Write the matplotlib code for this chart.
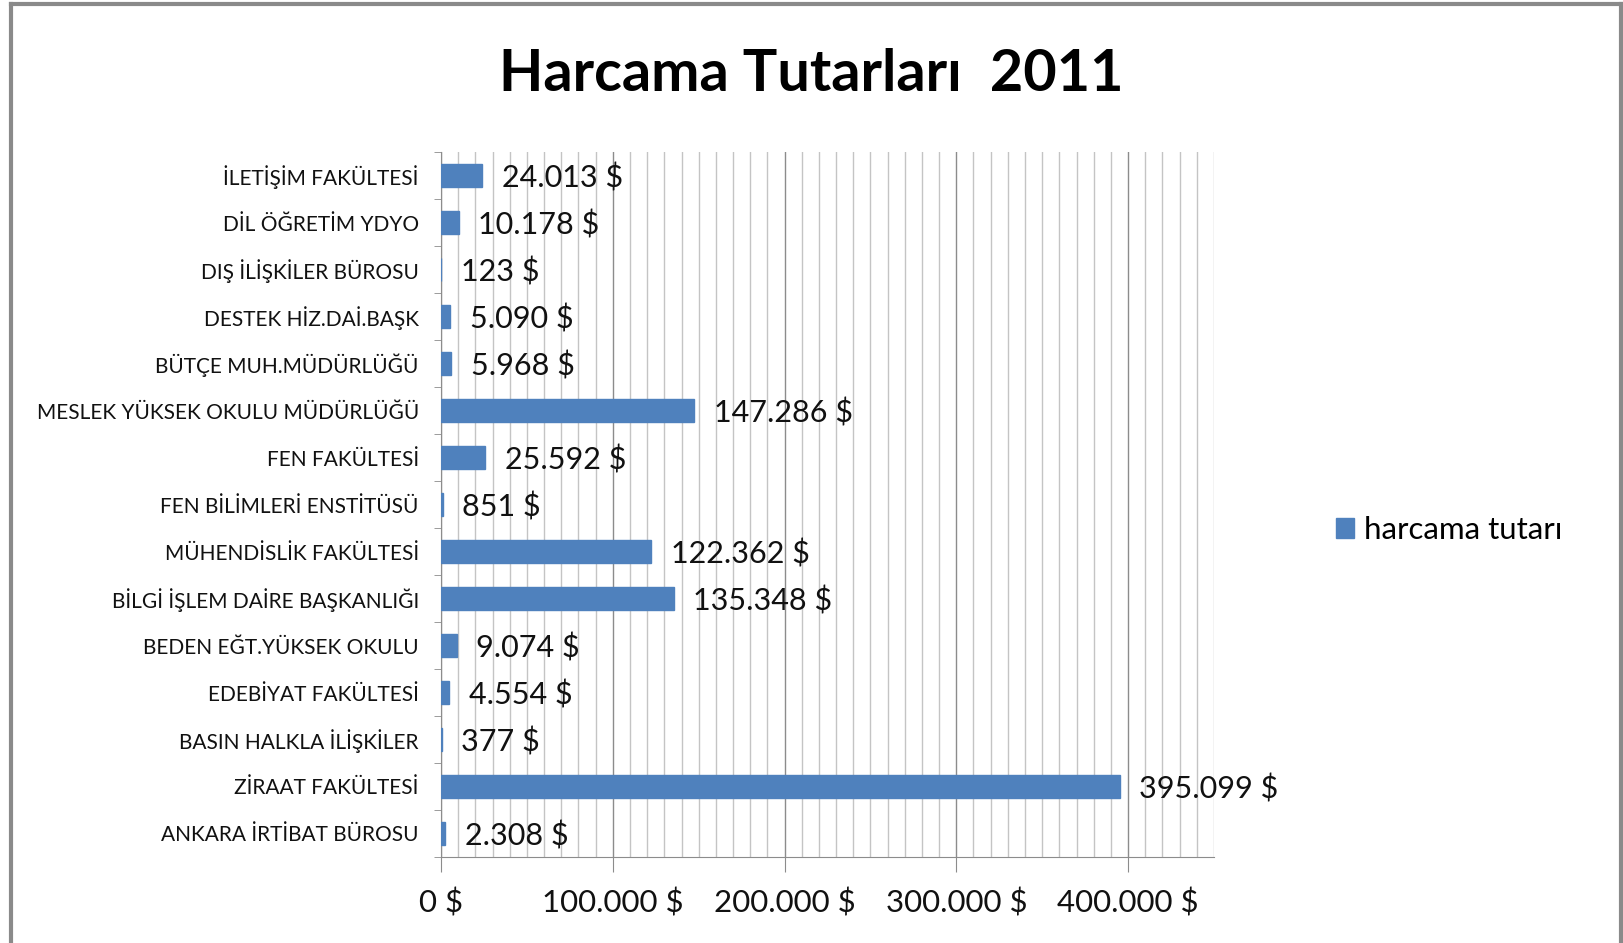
import numpy as np
import matplotlib
matplotlib.use("Agg")
import matplotlib.pyplot as plt
from matplotlib.ticker import MultipleLocator, FuncFormatter
from matplotlib.lines import Line2D

plt.rcParams['font.family'] = ['Lato', 'DejaVu Sans']

# categories from top to bottom, as in the chart
birimler = [
    "İLETİŞİM FAKÜLTESİ",
    "DİL ÖĞRETİM YDYO",
    "DIŞ İLİŞKİLER BÜROSU",
    "DESTEK HİZ.DAİ.BAŞK",
    "BÜTÇE MUH.MÜDÜRLÜĞÜ",
    "MESLEK YÜKSEK OKULU MÜDÜRLÜĞÜ",
    "FEN FAKÜLTESİ",
    "FEN BİLİMLERİ ENSTİTÜSÜ",
    "MÜHENDİSLİK FAKÜLTESİ",
    "BİLGİ İŞLEM DAİRE BAŞKANLIĞI",
    "BEDEN EĞT.YÜKSEK OKULU",
    "EDEBİYAT FAKÜLTESİ",
    "BASIN HALKLA İLİŞKİLER",
    "ZİRAAT FAKÜLTESİ",
    "ANKARA İRTİBAT BÜROSU",
]
tutarlar = [24013, 10178, 123, 5090, 5968, 147286, 25592, 851,
            122362, 135348, 9074, 4554, 377, 395099, 2308]
seri_adi = "harcama tutarı"
baslik = "Harcama Tutarları  2011"

bar_color = "#4F81BD"


def para(v):
    return f"{int(v):,}".replace(",", ".") + " $"


fig = plt.figure(figsize=(16.24, 9.43), dpi=100)
ax = fig.add_axes([0.2716, 0.0912, 0.4759, 0.7476])

# plot bottom-up so the first category sits at the top
y = np.arange(len(birimler))[::-1]
bars = ax.barh(y, tutarlar, height=0.5, color=bar_color,
               edgecolor=bar_color, linewidth=1.0, zorder=3)

for yi, v in zip(y, tutarlar):
    ax.text(v + 11500, yi - 0.05, para(v), va="center", ha="left",
            fontsize=22, color="#111111", zorder=4)

ax.set_xlim(0, 450000)
ax.set_ylim(-0.5, len(birimler) - 0.5)

ax.xaxis.set_major_locator(MultipleLocator(100000))
ax.xaxis.set_minor_locator(MultipleLocator(10000))
ax.xaxis.set_major_formatter(FuncFormatter(lambda v, p: para(v) if v <= 400000 else ""))
ax.grid(which="major", axis="x", color="#8c8c8c", linewidth=1.0, zorder=0)
ax.grid(which="minor", axis="x", color="#c4c4c4", linewidth=1.0, zorder=0)

ax.set_yticks(y)
ax.set_yticklabels(birimler, fontsize=15, color="#111111")
ax.set_yticks(np.arange(-0.5, len(birimler), 1.0), minor=True)
ax.tick_params(axis="y", which="major", length=0, pad=16)
ax.tick_params(axis="y", which="minor", length=5, color="#8c8c8c")
ax.tick_params(axis="x", which="major", length=11, color="#8c8c8c",
               labelsize=22.5, pad=12, labelcolor="#111111")
ax.tick_params(axis="x", which="minor", length=0)

for s in ["top", "right"]:
    ax.spines[s].set_visible(False)
for s in ["left", "bottom"]:
    ax.spines[s].set_color("#8c8c8c")

fig.text(0.4994, 0.921, baslik, ha="center", va="center",
         fontsize=41.5, fontweight="bold", color="#000000")

# legend
fig.legend(handles=[plt.Rectangle((0, 0), 1, 1, color=bar_color)],
           labels=[seri_adi], loc="center left", bbox_to_anchor=(0.809, 0.438),
           frameon=False, fontsize=22.5, handlelength=0.6, handleheight=0.6,
           handletextpad=0.3, borderpad=0.2)

# chart border (bottom edge is outside the image)
for xs, ys in [([0.0068, 0.0068], [0, 0.996]),
               ([0.0068, 0.9982], [0.996, 0.996]),
               ([0.9982, 0.9982], [0.996, 0])]:
    fig.add_artist(Line2D(xs, ys, color="#8a8a8a", linewidth=3,
                          transform=fig.transFigure))

fig.savefig("out.png", dpi=100)
